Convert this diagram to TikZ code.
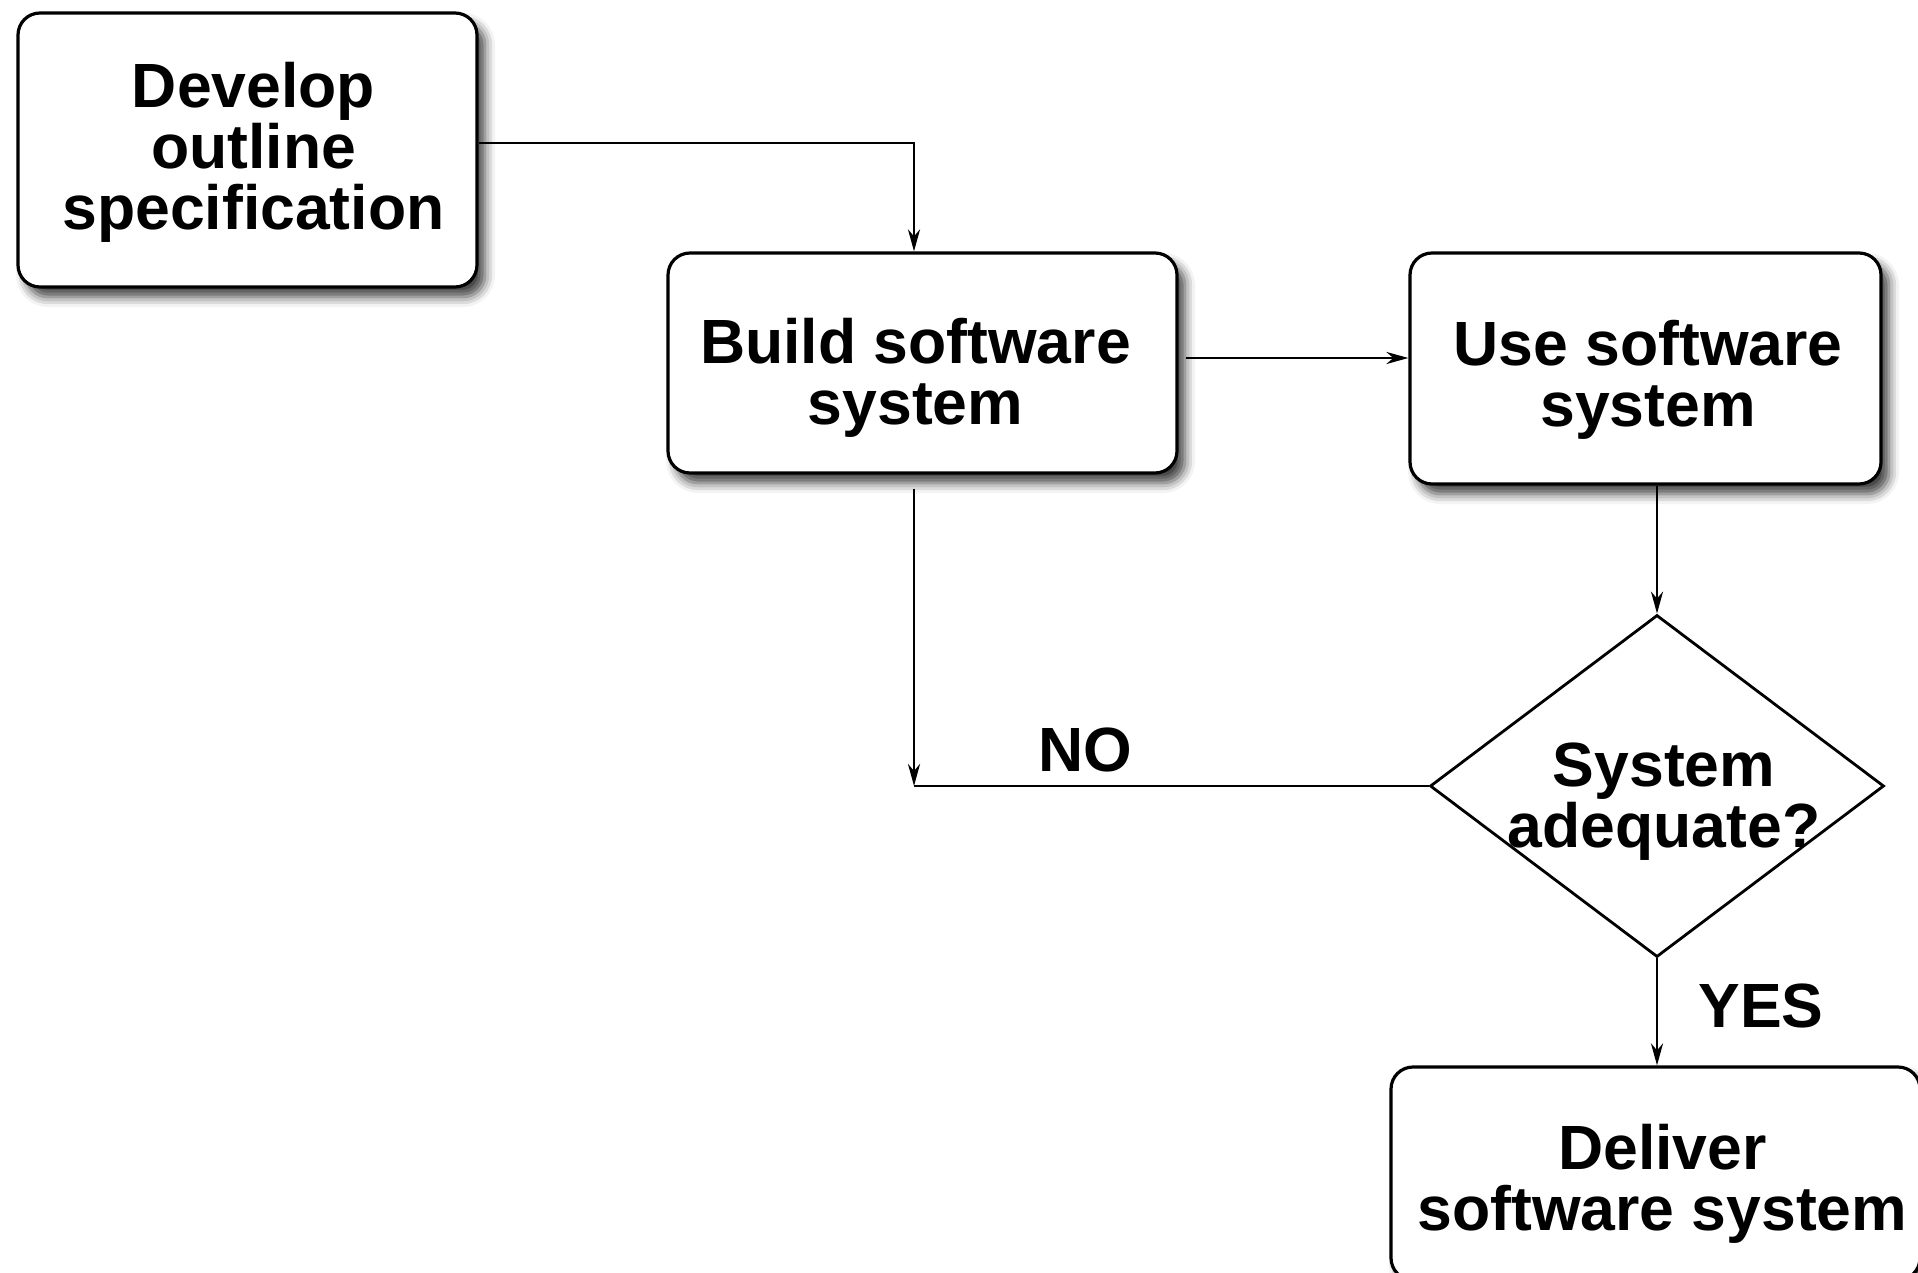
\documentclass[tikz,border=0pt]{standalone}
\usepackage{fontspec}
\setmainfont{Liberation Sans}
\usetikzlibrary{arrows.meta,shapes.geometric,shadows.blur}

\tikzset{
  txt/.style={font=\fontsize{62.5}{61}\selectfont\bfseries, align=center, inner sep=0pt},
  procbox/.style={draw, line width=3.2pt, rounded corners=22pt, fill=white,
    blur shadow={shadow xshift=8pt, shadow yshift=-10pt, shadow blur radius=10pt, shadow opacity=75}},
  decision/.style={draw, shape=diamond, line width=2.8pt, fill=white, inner sep=0pt},
  conn/.style={line width=2.8pt, -{Stealth[length=22pt, width=12pt, inset=7pt]}},
  plain/.style={line width=2.8pt},
}

\begin{document}
\begin{tikzpicture}[x=1pt, y=-1pt]
  \useasboundingbox (0,0) rectangle (1918,1273);

  % process boxes
  \node[procbox, minimum width=459pt, minimum height=274pt] (develop) at (247.5,150) {};
  \node[procbox, minimum width=509pt, minimum height=220pt] (build) at (922.5,363) {};
  \node[procbox, minimum width=471pt, minimum height=231pt] (use) at (1645.5,368.5) {};
  \node[procbox, minimum width=529pt, minimum height=213pt] (deliver) at (1655.5,1173.5) {};

  % decision
  \node[decision, minimum width=454pt, minimum height=342pt] (dec) at (1657,786) {};

  % box texts
  \node[txt] (developtext) at (253.5,152.5) {Develop\\outline\\specification};
  \node[txt] (buildtext) at (915.5,378) {Build software\\system};
  \node[txt] (usetext) at (1648,379.5) {Use software\\system};
  \node[txt] (delivertext) at (1662.5,1183.5) {Deliver\\software system};
  \node[txt] (dectext) at (1664,802) {System\\adequate?};

  % branch labels
  \node[txt] (no) at (1085,750) {NO};
  \node[txt] (yes) at (1761,1006) {YES};

  % connectors
  \coordinate (bend) at (914,786);
  \draw[conn] ([yshift=7pt]develop.east) -| ([xshift=-8.5pt]build.north);
  \draw[conn] ([xshift=7pt,yshift=5pt]build.east) -- ([yshift=5pt]build.east -| use.west);
  \draw[conn] ([xshift=-8.5pt,yshift=-14pt]build.south) -- (bend);
  \draw[plain] (dec.west) -- (bend);
  \draw[conn] (dec.north |- use.south) -- (dec.north);
  \draw[conn] (dec.south) -- (dec.south |- deliver.north);
\end{tikzpicture}
\end{document}
